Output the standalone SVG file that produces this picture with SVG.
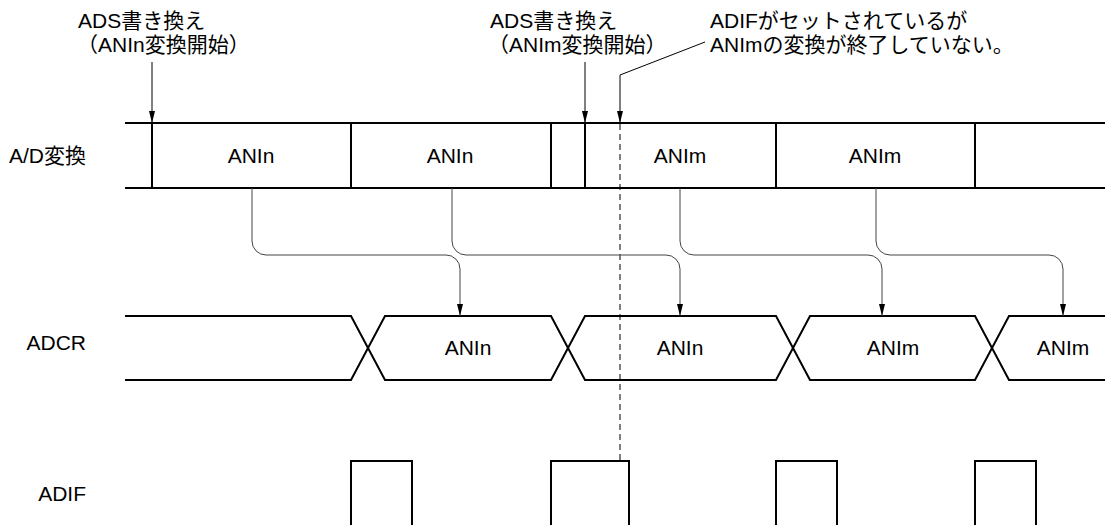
<svg xmlns="http://www.w3.org/2000/svg" width="1105" height="525" viewBox="0 0 1105 525">
  <defs>
    <marker id="arr" markerUnits="userSpaceOnUse" markerWidth="12" markerHeight="6" refX="12" refY="3" orient="auto">
      <path d="M0,0 L12,3 L0,6 z" fill="#000"/>
    </marker>
    <style>
      text { font-family: 'Liberation Sans', 'Noto Sans CJK JP', sans-serif; font-size: 21px; fill: #000; }
      .mid { text-anchor: middle; }
      .end { text-anchor: end; }
      .sig { fill: none; stroke: #000; stroke-width: 2; }
      .conn { fill: none; stroke: #444; stroke-width: 1; }
      .ptr { fill: none; stroke: #000; stroke-width: 1; }
      .dash { fill: none; stroke: #000; stroke-width: 1; stroke-dasharray: 6 4; }
    </style>
  </defs>
  <rect width="1105" height="525" fill="#fff"/>

  <g id="labels">
    <text class="end" x="86" y="163">A/D変換</text>
    <text class="end" x="86" y="350">ADCR</text>
    <text class="end" x="86" y="501">ADIF</text>
  </g>

  <g id="annotation-ads-n">
    <text x="78" y="28">ADS書き換え</text>
    <text x="77" y="52">（ANIn変換開始）</text>
  </g>
  <g id="annotation-ads-m">
    <text x="490" y="28">ADS書き換え</text>
    <text x="488" y="52">（ANIm変換開始）</text>
  </g>
  <g id="annotation-adif">
    <text x="710" y="28">ADIFがセットされているが</text>
    <text x="710" y="52">ANImの変換が終了していない。</text>
  </g>

  <g id="ad-row">
    <path class="sig" d="M125,123 H1105 M125,188 H1105 M152,123 V188 M351,123 V188 M551,123 V188 M585,123 V188 M776,123 V188 M975,123 V188"/>
    <text class="mid" x="251" y="163">ANIn</text>
    <text class="mid" x="450" y="163">ANIn</text>
    <text class="mid" x="680" y="163">ANIm</text>
    <text class="mid" x="875" y="163">ANIm</text>
  </g>

  <g id="adcr-row">
    <path class="sig" d="M125,316 H351 L385,380 H551 L585,316 H776 L810,380 H975 L1009,316 H1105"/>
    <path class="sig" d="M125,380 H351 L385,316 H551 L585,380 H776 L810,316 H975 L1009,380 H1105"/>
    <text class="mid" x="468" y="355">ANIn</text>
    <text class="mid" x="680" y="355">ANIn</text>
    <text class="mid" x="893" y="355">ANIm</text>
    <text class="mid" x="1063" y="355">ANIm</text>
  </g>

  <g id="adif-row">
    <path class="sig" d="M351,527 V461 H412 V527 M551,527 V461 H629 V527 M776,527 V461 H837 V527 M975,527 V461 H1036 V527"/>
  </g>

  <g id="connectors">
    <path class="ptr" d="M152,62 V123" marker-end="url(#arr)"/>
    <path class="ptr" d="M585,62 V123" marker-end="url(#arr)"/>
    <path class="ptr" d="M705,42 L620,75 V123" marker-end="url(#arr)"/>
    <path class="dash" d="M620,124 V461"/>
    <path class="conn" d="M252,188 V241 A14,14 0 0 0 266,255 H446 A14,14 0 0 1 460,269 V316" marker-end="url(#arr)"/>
    <path class="conn" d="M452,188 V241 A14,14 0 0 0 466,255 H666 A14,14 0 0 1 680,269 V316" marker-end="url(#arr)"/>
    <path class="conn" d="M680,188 V241 A14,14 0 0 0 694,255 H868 A14,14 0 0 1 882,269 V316" marker-end="url(#arr)"/>
    <path class="conn" d="M876,188 V241 A14,14 0 0 0 890,255 H1049 A14,14 0 0 1 1063,269 V316" marker-end="url(#arr)"/>
  </g>
</svg>
